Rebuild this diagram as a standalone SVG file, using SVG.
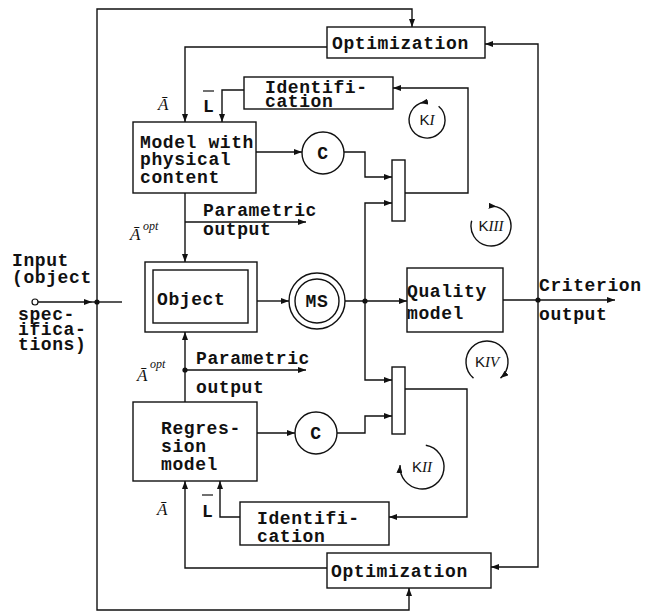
<svg xmlns="http://www.w3.org/2000/svg" width="645" height="616" viewBox="0 0 645 616">
<defs>
<style>
.ln{fill:none;stroke:#111;stroke-width:1.4}
.bx{fill:#fff;stroke:#111;stroke-width:1.4}
.t{font-family:"Liberation Mono","DejaVu Sans Mono",monospace;font-size:18px;letter-spacing:0.6px;font-weight:bold;fill:#111}
.s{font-family:"Liberation Serif","DejaVu Serif",serif;font-style:italic;fill:#111}
.k{font-family:"Liberation Sans","DejaVu Sans",sans-serif;font-size:15px;fill:#111}
.ki{font-family:"Liberation Serif",serif;font-style:italic}
.dot{fill:#111}
</style>
<marker id="ar" viewBox="0 0 8 6" refX="8" refY="3" markerWidth="8" markerHeight="6" markerUnits="userSpaceOnUse" orient="auto">
<path d="M0,0 L8,3 L0,6 z" fill="#111"/>
</marker>
<marker id="ak" viewBox="0 0 8 6" refX="4" refY="3" markerWidth="8" markerHeight="6" markerUnits="userSpaceOnUse" orient="auto">
<path d="M0,0 L8,3 L0,6 z" fill="#111"/>
</marker>
</defs>
<rect x="0" y="0" width="645" height="616" fill="#fff"/>

<g id="connectors">
<path class="ln" d="M97,302 L97,9 L412,9 L412,27" marker-end="url(#ar)"/>
<path class="ln" d="M97,302 L97,610 L409,610 L409,588" marker-end="url(#ar)"/>
<circle cx="35" cy="302" r="3" fill="#fff" stroke="#111" stroke-width="1.2"/>
<path class="ln" d="M38,302 L92,302" marker-end="url(#ar)"/>
<path class="ln" d="M92,302 L122,302"/>
<path class="ln" d="M327,47 L185,47 L185,122" marker-end="url(#ar)"/>
<path class="ln" d="M244,90 L222,90 L222,122" marker-end="url(#ar)"/>
<path class="ln" d="M256,152 L302,152" marker-end="url(#ar)"/>
<path class="ln" d="M344,152 L365,152 L365,177 L392,177" marker-end="url(#ar)"/>
<path class="ln" d="M405,193 L468,193 L468,88 L393,88" marker-end="url(#ar)"/>
<path class="ln" d="M365,301 L365,203 L392,203" marker-end="url(#ar)"/>
<path class="ln" d="M365,301 L365,380 L392,380" marker-end="url(#ar)"/>
<path class="ln" d="M257,301 L289,301" marker-end="url(#ar)"/>
<path class="ln" d="M345,301 L407,301" marker-end="url(#ar)"/>
<path class="ln" d="M503,300 L615,300" marker-end="url(#ar)"/>
<path class="ln" d="M538,300 L538,44 L485,44" marker-end="url(#ar)"/>
<path class="ln" d="M538,300 L538,567 L491,567" marker-end="url(#ar)"/>
<path class="ln" d="M185,193 L185,262" marker-end="url(#ar)"/>
<path class="ln" d="M185,222 L306,222" marker-end="url(#ar)"/>
<path class="ln" d="M185,402 L185,332" marker-end="url(#ar)"/>
<path class="ln" d="M185,370 L306,370" marker-end="url(#ar)"/>
<path class="ln" d="M257,433 L295,433" marker-end="url(#ar)"/>
<path class="ln" d="M337,433 L365,433 L365,416 L392,416" marker-end="url(#ar)"/>
<path class="ln" d="M405,389 L467,389 L467,517 L389,517" marker-end="url(#ar)"/>
<path class="ln" d="M240,517 L220,517 L220,481" marker-end="url(#ar)"/>
<path class="ln" d="M327,568 L185,568 L185,481" marker-end="url(#ar)"/>
<circle class="dot" cx="97" cy="302" r="2.6"/>
<circle class="dot" cx="365" cy="301" r="2.6"/>
<circle class="dot" cx="538" cy="300" r="2.6"/>
<circle class="dot" cx="185" cy="370" r="2.6"/>
</g>

<g id="input-label">
<text class="t" x="12" y="266">Input</text>
<text class="t" x="12" y="283">(object</text>
<text class="t" x="18" y="320">spec-</text>
<text class="t" x="18" y="335">ifica-</text>
<text class="t" x="18" y="350">tions)</text>
</g>

<g id="opt-top">
<rect class="bx" x="327" y="27" width="158" height="31"/>
<text class="t" x="332" y="49">Optimization</text>
</g>

<g id="ident-top">
<rect class="bx" x="244" y="77" width="149" height="32"/>
<text class="t" x="265" y="93">Identifi-</text>
<text class="t" x="265" y="107">cation</text>
</g>

<g id="labels-top">
<text class="s" x="158" y="110" font-size="17">Ā</text>
<text class="t" x="203" y="112" font-size="17">L</text>
<line x1="203" y1="91" x2="214" y2="91" stroke="#111" stroke-width="1.2"/>
</g>

<g id="model">
<rect class="bx" x="133" y="122" width="123" height="71"/>
<text class="t" x="140" y="148">Model with</text>
<text class="t" x="140" y="165">physical</text>
<text class="t" x="140" y="183">content</text>
</g>

<g id="c-top">
<circle class="bx" cx="323" cy="153" r="21"/>
<text class="t" x="323" y="159" text-anchor="middle" font-size="18">C</text>
</g>

<g id="mixer-top">
<rect class="bx" x="392" y="160" width="13" height="61"/>
</g>

<g id="param-top">
<text class="t" x="203" y="216">Parametric</text>
<text class="t" x="203" y="235">output</text>
<text class="s" x="130" y="240" font-size="17">Ā</text>
<text class="s" x="143" y="230" font-size="12">opt</text>
</g>

<g id="object">
<rect class="bx" x="145" y="262" width="112" height="70"/>
<rect class="bx" x="153" y="270" width="95" height="53"/>
<text class="t" x="157" y="305">Object</text>
</g>

<g id="ms">
<circle class="bx" cx="317" cy="301" r="28"/>
<circle class="bx" cx="317" cy="301" r="22"/>
<text class="t" x="317" y="307" text-anchor="middle" font-size="17" letter-spacing="-1">MS</text>
</g>

<g id="quality">
<rect class="bx" x="407" y="268" width="96" height="64"/>
<text class="t" x="407" y="297">Quality</text>
<text class="t" x="407" y="319">model</text>
</g>

<g id="criterion">
<text class="t" x="539" y="291">Criterion</text>
<text class="t" x="539" y="320">output</text>
</g>

<g id="param-bottom">
<text class="t" x="196" y="364">Parametric</text>
<text class="t" x="196" y="393">output</text>
<text class="s" x="137" y="381" font-size="17">Ā</text>
<text class="s" x="150" y="368" font-size="12">opt</text>
</g>

<g id="mixer-bottom">
<rect class="bx" x="392" y="367" width="13" height="67"/>
</g>

<g id="regression">
<rect class="bx" x="133" y="402" width="124" height="79"/>
<text class="t" x="161" y="434">Regres-</text>
<text class="t" x="161" y="452">sion</text>
<text class="t" x="161" y="470">model</text>
</g>

<g id="c-bottom">
<circle class="bx" cx="316" cy="433" r="21"/>
<text class="t" x="316" y="439" text-anchor="middle" font-size="18">C</text>
</g>

<g id="labels-bottom">
<text class="s" x="157" y="515" font-size="17">Ā</text>
<text class="t" x="202" y="517" font-size="17">L</text>
<line x1="202" y1="495" x2="213" y2="495" stroke="#111" stroke-width="1.2"/>
</g>

<g id="ident-bottom">
<rect class="bx" x="240" y="502" width="149" height="43"/>
<text class="t" x="257" y="524">Identifi-</text>
<text class="t" x="257" y="542">cation</text>
</g>

<g id="opt-bottom">
<rect class="bx" x="327" y="553" width="164" height="35"/>
<text class="t" x="331" y="577">Optimization</text>
</g>

<g id="loop-KI">
<path class="ln" d="M423.9,102.3 A18,18 0 1 0 438.6,106.2" marker-start="url(#ak)"/>
<text class="k" x="427" y="125" text-anchor="middle">K<tspan class="ki">I</tspan></text>
</g>
<g id="loop-KIII">
<path class="ln" d="M492.7,206.1 A20,20 0 1 1 471.7,220.8" marker-start="url(#ak)"/>
<text class="k" x="491" y="231" text-anchor="middle">K<tspan class="ki">III</tspan></text>
</g>
<g id="loop-KIV">
<path class="ln" d="M473.5,378.1 A21,21 0 1 1 500.5,378.1" marker-end="url(#ar)"/>
<text class="k" x="487" y="367" text-anchor="middle">K<tspan class="ki">IV</tspan></text>
</g>
<g id="loop-KII">
<path class="ln" d="M425.8,445.3 A22,22 0 1 1 400.1,465.1" marker-end="url(#ar)"/>
<text class="k" x="422" y="472" text-anchor="middle">K<tspan class="ki">II</tspan></text>
</g>
</svg>
